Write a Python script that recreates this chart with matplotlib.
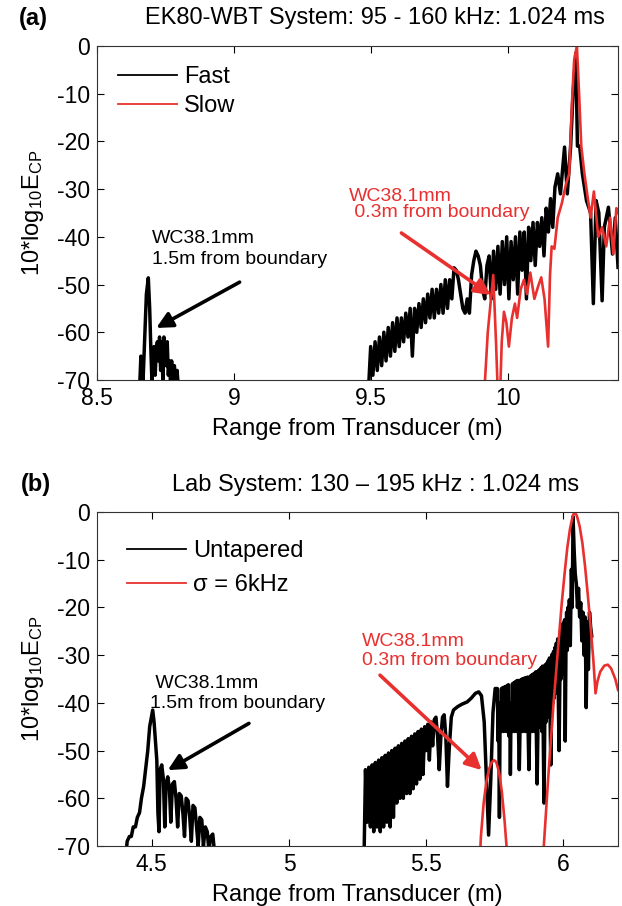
import numpy as np
import matplotlib
matplotlib.use('Agg')
import matplotlib.pyplot as plt
from matplotlib.lines import Line2D

plt.rcParams['font.family'] = ['Liberation Sans', 'DejaVu Sans']
plt.rcParams['mathtext.default'] = 'regular'
plt.rcParams['axes.unicode_minus'] = False

RED = '#e8302f'

# ---- panel (a): EK80-WBT ----
a_fast_x1 = [8.655, 8.660, 8.665, 8.668, 8.672, 8.676, 8.680, 8.687, 8.692, 8.696, 8.700, 8.704,
             8.708, 8.712, 8.716, 8.720, 8.724, 8.728, 8.732, 8.736, 8.740, 8.744, 8.748, 8.752,
             8.756, 8.760, 8.764, 8.768, 8.772, 8.777, 8.782, 8.787, 8.792, 8.797, 8.802]
a_fast_y1 = [-72, -65, -66, -70, -64, -58, -52, -48.6, -55, -63, -70, -68,
             -63, -69, -64, -62, -66, -61, -68, -62, -70, -61, -64, -67,
             -62, -69, -66, -70, -66, -70, -67, -70, -68, -72, -72]

# densely sampled part, 9.49 .. 10.17 m
a_fast_start, a_fast_stop = 9.490, 10.170
a_fast_y2 = [-72, -63, -69, -62, -68, -61, -67, -60, -66, -59, -65, -58, -64, -57, -63, -57,
             -62, -56, -61, -55, -65, -55, -60, -54, -59, -53, -58, -52, -57, -51, -57, -51,
             -56, -50, -56, -49, -55, -49, -53, -46.5, -47, -49, -52, -55, -56, -53, -56, -48,
             -45, -43, -44, -46, -51, -53, -46, -44, -53, -43, -51, -42, -52, -41, -50, -40,
             -53, -41, -49, -40, -52, -39, -47, -39, -53, -38, -45, -37, -46, -37, -42, -36,
             -44, -34, -39, -32, -38, -29.6]
a_fast_x3 = [10.180, 10.190, 10.205, 10.215, 10.227, 10.236, 10.246, 10.252, 10.260, 10.270, 10.285,
             10.300, 10.310, 10.320, 10.330, 10.342, 10.350, 10.365, 10.380, 10.390, 10.400]
a_fast_y3 = [-26.8, -31, -21.2, -31, -21.2, -10, -1.5, -21, -21, -26.8, -32.4,
             -35, -54, -32.4, -35, -53.4, -38, -33.8, -43.6, -36, -46.4]

a_slow_x = [9.905, 9.925, 9.945, 9.955, 9.966, 9.976, 9.984, 9.993, 10.002, 10.013, 10.024,
            10.032, 10.045, 10.057, 10.068, 10.080, 10.095, 10.108, 10.120, 10.132, 10.145, 10.152,
            10.158, 10.168, 10.180, 10.195, 10.210, 10.222, 10.232, 10.240, 10.250, 10.258, 10.266,
            10.277, 10.290, 10.300, 10.312, 10.328, 10.342, 10.357, 10.371, 10.383, 10.394, 10.400]
a_slow_y = [-80, -60, -48, -62, -80, -62, -55.7, -58, -63, -57, -54,
            -57, -51, -49, -52, -47.5, -53, -50.5, -48.5, -53, -63, -48,
            -42, -42.5, -36, -33, -29, -26.8, -12, -3, 0, -10, -21,
            -26.6, -32, -36, -30.5, -40, -38, -42, -36, -43.6, -34, -35]

# ---- panel (b): lab system ----
b_unt_x1 = [4.405, 4.410, 4.418, 4.425, 4.432, 4.440, 4.447, 4.455, 4.462, 4.470, 4.477, 4.485,
            4.492, 4.503, 4.508, 4.513, 4.518, 4.522, 4.526, 4.530, 4.536, 4.542, 4.547, 4.552,
            4.558, 4.564, 4.569, 4.575, 4.582, 4.588, 4.594, 4.600, 4.607, 4.613, 4.619, 4.625,
            4.632, 4.638, 4.644, 4.650, 4.657, 4.663, 4.669, 4.675, 4.682, 4.688, 4.695, 4.702,
            4.708, 4.715, 4.722, 4.728, 4.735]
b_unt_y1 = [-72, -69, -68, -68, -66, -66, -64, -63, -60, -57.5, -54, -50,
            -45, -41.5, -44, -48, -52, -63, -67, -54, -53, -56, -66, -57,
            -55.5, -58, -65, -57, -56.5, -60, -66, -59, -59.5, -63, -68, -60,
            -60.5, -64, -69, -61.5, -62, -66, -70, -64, -64.5, -70, -66, -67,
            -71, -68, -67.5, -71, -72]

# densely sampled part, 5.273 .. 5.495 m
b_unt_start2, b_unt_stop2 = 5.273, 5.495
b_unt_y2 = [-75, -54, -65, -53.5, -66, -53, -67, -52.5, -66, -52, -67, -51.5, -66, -51, -65,
            -50.5, -66, -50, -64, -49.5, -61, -49, -60, -48.5, -60, -48, -59, -47.5, -59, -47,
            -58, -46.5, -57, -46, -56, -45.5, -55, -45]
b_unt_x3 = [5.500, 5.506, 5.512, 5.518, 5.524, 5.530, 5.536, 5.542, 5.548, 5.554, 5.560, 5.566,
            5.572, 5.578, 5.584, 5.592, 5.600, 5.615, 5.630, 5.650, 5.665, 5.680, 5.692, 5.702,
            5.712, 5.720, 5.728, 5.736, 5.744, 5.752]
b_unt_y3 = [-50, -44.5, -52, -44, -49, -43.5, -43, -47, -54, -47, -43, -42.5,
            -47, -57.5, -50, -43, -41.5, -40.8, -40.3, -39.8, -39, -38, -37.7, -38.5,
            -44, -56, -67.7, -56, -42, -37]
# densely sampled part, 5.760 .. 6.0225 m
b_unt_start4, b_unt_stop4 = 5.760, 6.0225
b_unt_y4 = [-37, -48, -40, -64, -42, -46, -37, -45, -36.8, -46, -36.7, -45, -36.6, -46, -36.4, -45,
            -36.2, -47, -40, -55, -40, -46, -36, -45, -35.8, -46, -35.6, -45, -35.4, -46, -35.3, -47,
            -54, -46, -35.2, -45, -35.0, -46, -34.9, -45, -34.8, -46, -34.7, -45, -34.6, -47, -54, -46,
            -34.4, -45, -34.2, -46, -34.0, -45, -33.8, -46, -33.5, -48, -57, -47, -33.2, -45, -33.0, -45,
            -32.6, -46, -32.3, -48, -61, -47, -32.0, -44, -31.7, -43, -31.2, -42, -30.6, -44, -53, -42,
            -29.8, -40, -29.2, -39, -28.4, -38, -27.5, -37, -26.6, -40, -50, -38, -25.0, -35, -24.2, -34,
            -23.3, -33, -22.6, -48, -30, -21, -29, -20, -28, -18.4]
b_unt_x5 = [6.026, 6.030, 6.033, 6.036, 6.040, 6.044, 6.048, 6.052, 6.056, 6.060, 6.064, 6.068,
            6.072, 6.076, 6.080, 6.084, 6.088, 6.092, 6.096, 6.100, 6.104]
b_unt_y5 = [-28, -12, -20, -1, -8, -13, -15, -20, -16, -22, -19, -27,
            -21, -30, -22, -41, -23, -33, -21, -24, -26]

b_tap_x1 = [5.690, 5.700, 5.710, 5.720, 5.730, 5.740, 5.748, 5.756, 5.766, 5.776, 5.786, 5.796, 5.802]
b_tap_y1 = [-80, -68, -61, -56.5, -53.8, -52.4, -52, -52.4, -54.5, -58.5, -64.5, -72, -80]
b_tap_x2 = [5.918, 5.935, 5.945, 5.955, 5.965, 5.975, 5.985, 5.995, 6.005, 6.015, 6.025, 6.035,
            6.042, 6.050, 6.060, 6.070, 6.080, 6.090, 6.100, 6.110, 6.118, 6.125, 6.135, 6.150,
            6.163, 6.175, 6.190, 6.200]
b_tap_y2 = [-80, -65, -56, -48, -40, -33, -26, -19, -13, -7.5, -3.5, -0.8,
            0, -0.8, -3, -6.5, -11.5, -17.5, -24, -31, -38, -35.5, -33.5, -32.2,
            -32, -32.8, -35, -37.3]

y_ticks = [0, -10, -20, -30, -40, -50, -60, -70]
a_xticks = [8.5, 9, 9.5, 10]
b_xticks = [4.5, 5, 5.5, 6]
a_xticklabels = ['8.5', '9', '9.5', '10']
b_xticklabels = ['4.5', '5', '5.5', '6']

fig = plt.figure(figsize=(6.22, 9.06), dpi=100)
ax1 = fig.add_axes([0.156, 0.5806, 0.8376, 0.3687])
ax2 = fig.add_axes([0.156, 0.0662, 0.8376, 0.3687])

a_fast_x = np.concatenate([np.linspace(a_fast_start, a_fast_stop, len(a_fast_y2)), a_fast_x3])
a_fast_y = np.concatenate([a_fast_y2, a_fast_y3])
ax1.plot(a_fast_x1, a_fast_y1, color='k', lw=2.5)
ax1.plot(a_fast_x, a_fast_y, color='k', lw=2.5)
ax1.plot(a_slow_x, a_slow_y, color=RED, lw=1.9)

b_unt_x = np.concatenate([np.linspace(b_unt_start2, b_unt_stop2, len(b_unt_y2)), b_unt_x3,
                          np.linspace(b_unt_start4, b_unt_stop4, len(b_unt_y4)), b_unt_x5])
b_unt_y = np.concatenate([b_unt_y2, b_unt_y3, b_unt_y4, b_unt_y5])
ax2.plot(b_unt_x1, b_unt_y1, color='k', lw=2.5)
ax2.plot(b_unt_x, b_unt_y, color='k', lw=2.5)
ax2.plot(b_tap_x1, b_tap_y1, color=RED, lw=1.9)
ax2.plot(b_tap_x2, b_tap_y2, color=RED, lw=1.9)

for ax, xl, xt, xtl in [(ax1, (8.5, 10.4), a_xticks, a_xticklabels),
                        (ax2, (4.3, 6.2), b_xticks, b_xticklabels)]:
    ax.set_xlim(*xl)
    ax.set_ylim(-70, 0)
    ax.set_xticks(xt)
    ax.set_xticklabels(xtl)
    ax.set_yticks(y_ticks)
    ax.tick_params(direction='in', top=True, right=True, length=5, width=0.8,
                   labelsize=16.5, pad=5)
    for s in ax.spines.values():
        s.set_linewidth(0.8)
        s.set_color('#333333')
    ax.set_xlabel('Range from Transducer (m)', fontsize=17, labelpad=6)
    ax.set_ylabel('10*log$_{10}$E$_{CP}$', fontsize=17, labelpad=8)

# legends
h1 = [Line2D([], [], color='k', lw=1.3), Line2D([], [], color=RED, lw=1.3)]
ax1.legend(h1, ['Fast', 'Slow'], loc='upper left', bbox_to_anchor=(0.040, 0.94),
           frameon=False, fontsize=17, handlelength=2.5, handletextpad=0.3,
           labelspacing=0.3, borderpad=0, borderaxespad=0)
ax2.legend(h1, ['Untapered', 'σ = 6kHz'], loc='upper left', bbox_to_anchor=(0.058, 0.915),
           frameon=False, fontsize=17, handlelength=2.5, handletextpad=0.3,
           labelspacing=0.5, borderpad=0, borderaxespad=0)

# annotations
arrow_k = dict(arrowstyle='-|>', color='k', lw=2.6, mutation_scale=24, shrinkA=0, shrinkB=0)
arrow_r = dict(arrowstyle='-|>', color=RED, lw=2.6, mutation_scale=24, shrinkA=0, shrinkB=0)

ax1.text(8.701, -42.6, 'WC38.1mm\n1.5m from boundary', fontsize=14, ha='left', va='center',
         linespacing=1.35)
ax1.annotate('', xy=(8.716, -59.1), xytext=(9.020, -49.5), arrowprops=arrow_k)
ax1.text(9.418, -33.2, 'WC38.1mm\n 0.3m from boundary', fontsize=14, ha='left', va='center',
         color=RED, linespacing=0.95)
ax1.annotate('', xy=(9.936, -52.2), xytext=(9.610, -39.2), arrowprops=arrow_r)

ax2.text(4.493, -38.0, ' WC38.1mm\n1.5m from boundary', fontsize=14, ha='left', va='center',
         linespacing=1.25)
ax2.annotate('', xy=(4.558, -54.1), xytext=(4.854, -44.3), arrowprops=arrow_k)
ax2.text(5.266, -29.1, 'WC38.1mm\n0.3m from boundary', fontsize=14, ha='left', va='center',
         color=RED, linespacing=1.15)
ax2.annotate('', xy=(5.703, -54.1), xytext=(5.332, -34.2), arrowprops=arrow_r)

# titles and panel letters
fig.text(0.602, 1 - 18 / 906, 'EK80-WBT System: 95 - 160 kHz: 1.024 ms', fontsize=17,
         ha='center', va='center')
fig.text(0.053, 1 - 18 / 906, '(a)', fontsize=17, fontweight='bold', ha='center', va='center')
fig.text(0.603, 1 - 485 / 906, 'Lab System: 130 \u2013 195 kHz : 1.024 ms', fontsize=17,
         ha='center', va='center')
fig.text(0.057, 1 - 485 / 906, '(b)', fontsize=17, fontweight='bold', ha='center', va='center')

fig.savefig('out.png', dpi=100)
